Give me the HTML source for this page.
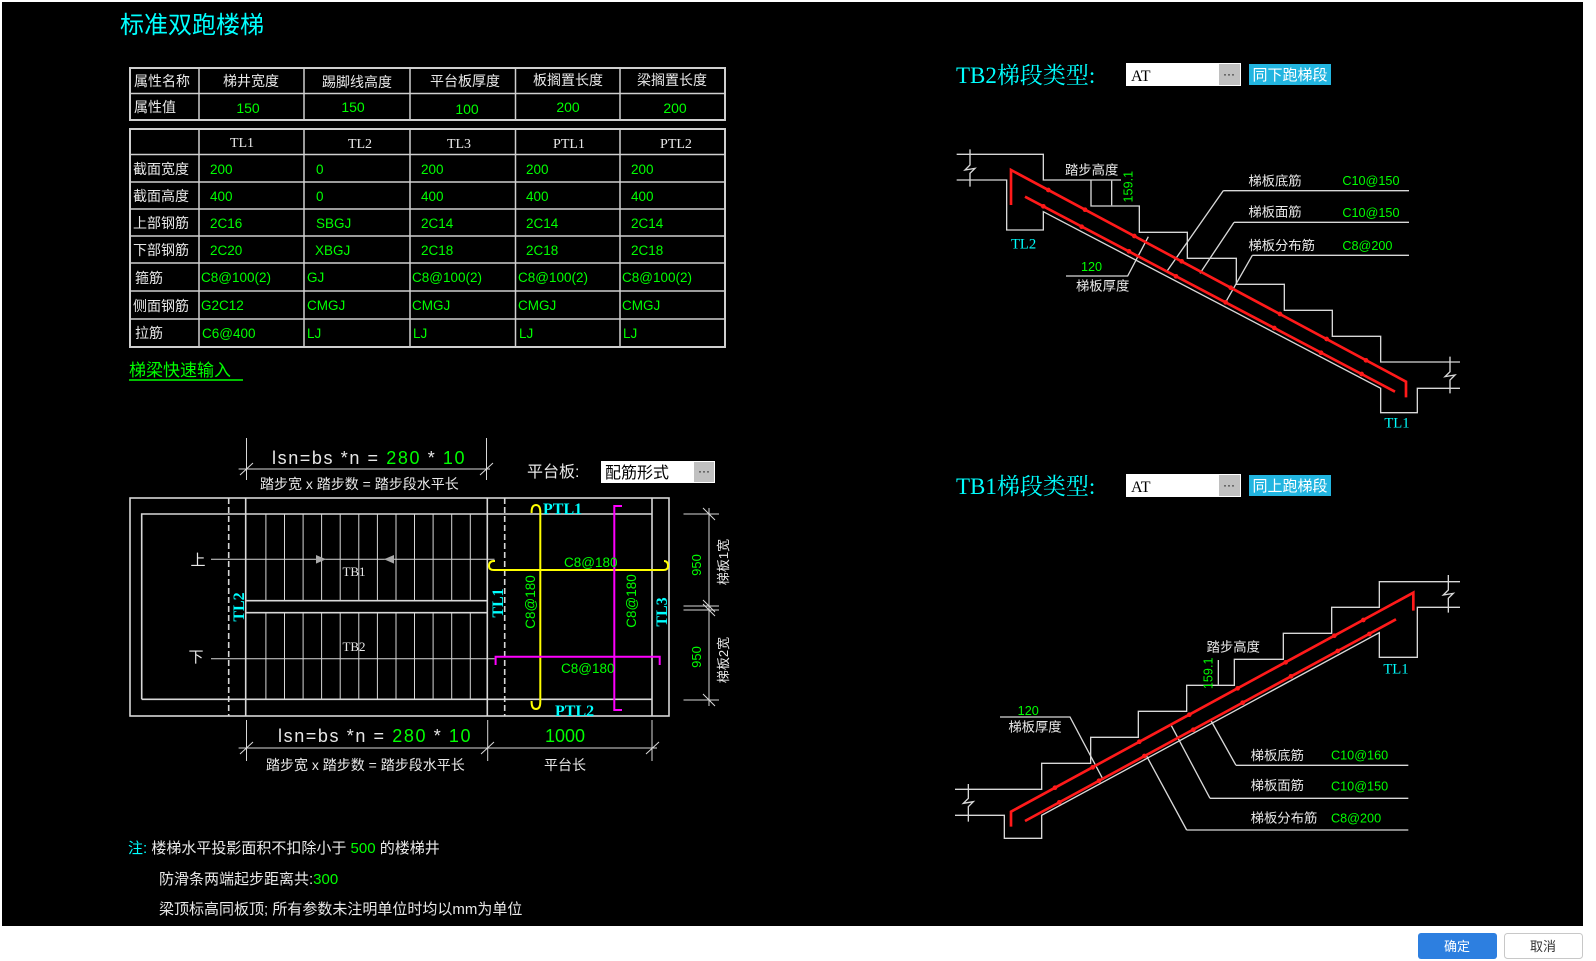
<!DOCTYPE html>
<html><head><meta charset="utf-8"><style>
html,body{margin:0;padding:0;background:#fff;}
svg{display:block;}
text{font-family:"Liberation Sans","Noto Sans CJK SC",sans-serif;}
.w{fill:#e8e8e8;}
.g{fill:#00ff00;}
.c{fill:#00ffff;}
.m{font-family:"Liberation Mono",monospace;}
</style></head><body>
<svg width="1596" height="961" viewBox="0 0 1596 961" xmlns="http://www.w3.org/2000/svg">
<rect x="0" y="0" width="1596" height="961" fill="#fff"/>
<rect x="2" y="2" width="1581" height="924" fill="#000"/>

<text x="120" y="33" font-size="24" class="c">标准双跑楼梯</text>

<g stroke="#cfcfcf" fill="none">
<rect x="130" y="68" width="595" height="52" stroke-width="2"/>
<line x1="130" y1="93.5" x2="725" y2="93.5" stroke-width="1.5"/>
<line x1="199" y1="68" x2="199" y2="120" stroke-width="1.5"/>
<line x1="304" y1="68" x2="304" y2="120" stroke-width="1.5"/>
<line x1="410" y1="68" x2="410" y2="120" stroke-width="1.5"/>
<line x1="515.5" y1="68" x2="515.5" y2="120" stroke-width="1.5"/>
<line x1="620" y1="68" x2="620" y2="120" stroke-width="1.5"/>
<rect x="130" y="129" width="595" height="218" stroke-width="2"/>
<line x1="130" y1="154.5" x2="725" y2="154.5" stroke-width="1.5"/>
<line x1="130" y1="182" x2="725" y2="182" stroke-width="1.5"/>
<line x1="130" y1="209" x2="725" y2="209" stroke-width="1.5"/>
<line x1="130" y1="236" x2="725" y2="236" stroke-width="1.5"/>
<line x1="130" y1="263" x2="725" y2="263" stroke-width="1.5"/>
<line x1="130" y1="291" x2="725" y2="291" stroke-width="1.5"/>
<line x1="130" y1="319" x2="725" y2="319" stroke-width="1.5"/>
<line x1="199" y1="129" x2="199" y2="347" stroke-width="1.5"/>
<line x1="304" y1="129" x2="304" y2="347" stroke-width="1.5"/>
<line x1="410" y1="129" x2="410" y2="347" stroke-width="1.5"/>
<line x1="515.5" y1="129" x2="515.5" y2="347" stroke-width="1.5"/>
<line x1="620" y1="129" x2="620" y2="347" stroke-width="1.5"/>
</g>
<g font-size="14" class="w">
<text x="134" y="86">属性名称</text>
<text x="251" y="86" text-anchor="middle">梯井宽度</text>
<text x="357" y="87" text-anchor="middle">踢脚线高度</text>
<text x="465" y="86" text-anchor="middle">平台板厚度</text>
<text x="568" y="85" text-anchor="middle">板搁置长度</text>
<text x="672" y="85" text-anchor="middle">梁搁置长度</text>
<text x="134" y="112">属性值</text>
</g>
<g font-size="14" class="g m" text-anchor="middle">
<text x="248" y="113">150</text>
<text x="353" y="112">150</text>
<text x="467" y="114">100</text>
<text x="568" y="112">200</text>
<text x="675" y="113">200</text>
</g>
<g font-size="14" class="w" text-anchor="middle">
<text x="242" y="147" style="font-family:'Liberation Serif',serif">TL1</text>
<text x="360" y="148" style="font-family:'Liberation Serif',serif">TL2</text>
<text x="459" y="148" style="font-family:'Liberation Serif',serif">TL3</text>
<text x="569" y="148" style="font-family:'Liberation Serif',serif">PTL1</text>
<text x="676" y="148" style="font-family:'Liberation Serif',serif">PTL2</text>
</g>
<g font-size="14" class="w">
<text x="133" y="174">截面宽度</text>
<text x="133" y="201">截面高度</text>
<text x="133" y="228">上部钢筋</text>
<text x="133" y="255">下部钢筋</text>
<text x="135" y="283">箍筋</text>
<text x="133" y="311">侧面钢筋</text>
<text x="135" y="338">拉筋</text>
</g>
<g font-size="13.5" class="g m">
<text x="210" y="174">200</text><text x="316" y="174">0</text><text x="421" y="174">200</text><text x="526" y="174">200</text><text x="631" y="174">200</text>
<text x="210" y="201">400</text><text x="316" y="201">0</text><text x="421" y="201">400</text><text x="526" y="201">400</text><text x="631" y="201">400</text>
<text x="210" y="228">2C16</text><text x="316" y="228">SBGJ</text><text x="421" y="228">2C14</text><text x="526" y="228">2C14</text><text x="631" y="228">2C14</text>
<text x="210" y="255">2C20</text><text x="315" y="255">XBGJ</text><text x="421" y="255">2C18</text><text x="526" y="255">2C18</text><text x="631" y="255">2C18</text>
<text x="201" y="282">C8@100(2)</text><text x="307" y="282">GJ</text><text x="412" y="282">C8@100(2)</text><text x="518" y="282">C8@100(2)</text><text x="622" y="282">C8@100(2)</text>
<text x="201" y="310">G2C12</text><text x="307" y="310">CMGJ</text><text x="412" y="310">CMGJ</text><text x="518" y="310">CMGJ</text><text x="622" y="310">CMGJ</text>
<text x="202" y="338">C6@400</text><text x="307" y="338">LJ</text><text x="413" y="338">LJ</text><text x="519" y="338">LJ</text><text x="623" y="338">LJ</text>
</g>

<text x="129" y="376" font-size="17" class="g">梯梁快速输入</text>
<line x1="129" y1="380" x2="243" y2="380" stroke="#00ff00" stroke-width="1.5"/>

<g stroke="#d8d8d8" fill="none" stroke-width="1.6">
<rect x="130" y="498" width="539" height="218"/>
<path d="M141.7 699.3 V514 H652 M141.7 699.3 H652 V498 M652 716 V699"/>
<line x1="245.7" y1="498" x2="245.7" y2="716"/>
<line x1="487.3" y1="498" x2="487.3" y2="716"/>
<line x1="228.7" y1="498" x2="228.7" y2="716" stroke-dasharray="6,3"/>
<line x1="504.7" y1="498" x2="504.7" y2="716" stroke-dasharray="6,3"/>
<path d="M245.7 600.7 H487.3 M245.7 612.7 H487.3"/>
</g>
<g stroke="#d8d8d8" stroke-width="1">
<path d="M265.9 514V600.7M265.9 612.7V699.3 M284.5 514V600.7M284.5 612.7V699.3 M303.1 514V600.7M303.1 612.7V699.3 M321.6 514V600.7M321.6 612.7V699.3 M340.2 514V600.7M340.2 612.7V699.3 M358.8 514V600.7M358.8 612.7V699.3 M377.4 514V600.7M377.4 612.7V699.3 M396 514V600.7M396 612.7V699.3 M414.5 514V600.7M414.5 612.7V699.3 M433.1 514V600.7M433.1 612.7V699.3 M451.7 514V600.7M451.7 612.7V699.3 M470.3 514V600.7M470.3 612.7V699.3"/>
<line x1="211" y1="559.3" x2="494.5" y2="559.3"/>
<line x1="211" y1="658.7" x2="494.5" y2="658.7"/>
</g>
<polygon points="316,555 326,559.3 316,563.6" fill="#aaa"/>
<polygon points="394,555 384,559.3 394,563.6" fill="#aaa"/>
<text x="354" y="576" font-size="13" class="w" text-anchor="middle" style="font-family:'Liberation Serif',serif">TB1</text>
<text x="354" y="651" font-size="13" class="w" text-anchor="middle" style="font-family:'Liberation Serif',serif">TB2</text>
<text x="198" y="565" font-size="15" class="w" text-anchor="middle">上</text>
<text x="196" y="662" font-size="15" class="w" text-anchor="middle">下</text>
<g font-size="16" font-weight="bold" class="c">
<text transform="translate(244,607) rotate(-90)" text-anchor="middle" style="font-family:'Liberation Serif',serif">TL2</text>
<text transform="translate(503,603) rotate(-90)" text-anchor="middle" style="font-family:'Liberation Serif',serif">TL1</text>
<text transform="translate(667,612) rotate(-90)" text-anchor="middle" style="font-family:'Liberation Serif',serif">TL3</text>
<text x="543" y="514" style="font-family:'Liberation Serif',serif">PTL1</text>
<text x="555" y="716" style="font-family:'Liberation Serif',serif">PTL2</text>
</g>
<g stroke="#ffff00" stroke-width="2" fill="none">
<path d="M540.3 512 V702 M540.3 512 Q540.3 505 536 505 Q531.6 505 531.6 512 V513 M540.3 702 Q540.3 709 536 709 Q531.6 709 531.6 702 V701"/>
<path d="M494 570 H663.5 M494 570 Q489 570 489 566 Q489 561 494 561 H495 M663.5 570 Q668 570 668 566 Q668 561 664 561"/>
</g>
<g stroke="#ff00ff" stroke-width="2" fill="none">
<path d="M622 506 H614.3 V710 H622"/>
<path d="M495.6 665 V656.7 H659.7 V665"/>
</g>
<g font-size="13.5" class="g m">
<text x="564" y="567">C8@180</text>
<text x="561" y="673">C8@180</text>
<text transform="translate(535,602) rotate(-90)" text-anchor="middle">C8@180</text>
<text transform="translate(636,601) rotate(-90)" text-anchor="middle">C8@180</text>
</g>
<g stroke="#d8d8d8" stroke-width="1">
<line x1="709" y1="508" x2="709" y2="706"/>
<line x1="683.5" y1="514" x2="719" y2="514"/>
<line x1="683.5" y1="606" x2="719" y2="606"/>
<line x1="683.5" y1="610" x2="719" y2="610"/>
<line x1="683.5" y1="700" x2="719" y2="700"/>
<path d="M703 508 L715 520 M703 600 L715 612 M703 604 L715 616 M703 694 L715 706"/>
</g>
<g font-size="13" class="g m">
<text transform="translate(701,565) rotate(-90)" text-anchor="middle">950</text>
<text transform="translate(701,657) rotate(-90)" text-anchor="middle">950</text>
</g>
<g font-size="13" class="w">
<text transform="translate(728,562) rotate(-90)" text-anchor="middle">梯板1宽</text>
<text transform="translate(728,660) rotate(-90)" text-anchor="middle">梯板2宽</text>
</g>
<g stroke="#d8d8d8" stroke-width="1">
<line x1="246.5" y1="438" x2="246.5" y2="480"/>
<line x1="486.5" y1="438" x2="486.5" y2="480"/>
<line x1="238.6" y1="469" x2="490" y2="469"/>
<path d="M240 475 L253 463 M480 475 L493 463"/>
<line x1="246.5" y1="720" x2="246.5" y2="761"/>
<line x1="487.7" y1="720" x2="487.7" y2="761"/>
<line x1="652" y1="720" x2="652" y2="761"/>
<line x1="238.6" y1="748" x2="657" y2="748"/>
<path d="M240 754 L253 742 M481 754 L494 742 M646 754 L659 742"/>
</g>
<text x="272" y="464" font-size="18" letter-spacing="1.6"><tspan class="w">lsn=bs *n = </tspan><tspan class="g">280</tspan><tspan class="w"> * </tspan><tspan class="g">10</tspan></text>
<text x="260" y="489" font-size="14" class="w">踏步宽 x 踏步数 = 踏步段水平长</text>
<text x="278" y="742" font-size="18" letter-spacing="1.6"><tspan class="w">lsn=bs *n = </tspan><tspan class="g">280</tspan><tspan class="w"> * </tspan><tspan class="g">10</tspan></text>
<text x="565" y="742" font-size="18" class="g" text-anchor="middle">1000</text>
<text x="266" y="770" font-size="14" class="w">踏步宽 x 踏步数 = 踏步段水平长</text>
<text x="565" y="770" font-size="14" class="w" text-anchor="middle">平台长</text>
<text x="527" y="477" font-size="16" class="w">平台板:</text>
<rect x="601" y="461" width="114" height="22" fill="#fff"/>
<rect x="694" y="462" width="20" height="20" fill="#c0c0c0"/>
<text x="605" y="478" font-size="16" fill="#000">配筋形式</text>
<text x="704" y="475" font-size="12" fill="#000" text-anchor="middle">···</text>

<text x="128" y="853" font-size="15"><tspan class="c">注:</tspan><tspan class="w"> 楼梯水平投影面积不扣除小于 </tspan><tspan class="g">500</tspan><tspan class="w"> 的楼梯井</tspan></text>
<text x="159" y="884" font-size="15"><tspan class="w">防滑条两端起步距离共:</tspan><tspan class="g">300</tspan></text>
<text x="159" y="914" font-size="15" class="w">梁顶标高同板顶; 所有参数未注明单位时均以mm为单位</text>

<text x="956" y="83" font-size="23" class="c" style="font-family:'Liberation Serif','Noto Serif CJK SC',serif">TB2梯段类型:</text>
<rect x="1126" y="63" width="115" height="23" fill="#fff"/>
<rect x="1219" y="64" width="21" height="21" fill="#c0c0c0"/>
<text x="1131" y="81" font-size="16" fill="#000" style="font-family:'Liberation Serif',serif">AT</text>
<text x="1229" y="78" font-size="12" fill="#000" text-anchor="middle">···</text>
<rect x="1249" y="64" width="82" height="21" fill="#22b5e0"/>
<text x="1290" y="80" font-size="15" fill="#fff" text-anchor="middle">同下跑梯段</text>
<text x="956" y="494" font-size="23" class="c" style="font-family:'Liberation Serif','Noto Serif CJK SC',serif">TB1梯段类型:</text>
<rect x="1126" y="474" width="115" height="23" fill="#fff"/>
<rect x="1219" y="475" width="21" height="21" fill="#c0c0c0"/>
<text x="1131" y="492" font-size="16" fill="#000" style="font-family:'Liberation Serif',serif">AT</text>
<text x="1229" y="489" font-size="12" fill="#000" text-anchor="middle">···</text>
<rect x="1249" y="475" width="82" height="21" fill="#22b5e0"/>
<text x="1290" y="491" font-size="15" fill="#fff" text-anchor="middle">同上跑梯段</text>

<g transform="translate(940,140) scale(0.33333)">
<g stroke="#d8d8d8" stroke-width="4" fill="none">
<path d="M50 43 H310 V120 H543 M453 120 V198 H598 V277 H742 V355 H889 V433 H1033 V511 H1177 V589 H1322 V666 H1560"/>
<path d="M50 120 H200 V270 H310 V215 L1322 745 V818 H1432 V745 H1560"/>
<path d="M90 28 V75 L75 90 L105 85 L90 100 V140 M1530 650 V695 L1515 710 L1545 705 L1530 720 V760"/>
<line x1="515" y1="122" x2="515" y2="196"/>
<path d="M378 408 H563 L625 290 M850 152 H1407 M850 152 L680 395 M882 247 H1407 M882 247 L780 400 M937 346 H1407 M937 346 L855 490"/>
</g>
<g stroke="#ff1a1a" stroke-width="8" fill="none">
<path d="M213 195 V90 L1398 725 V772"/>
<path d="M255 170 L1365 755"/>
</g>
<g fill="#ff1a1a">
<circle cx="325" cy="150" r="7"/><circle cx="435" cy="209" r="7"/><circle cx="583" cy="288" r="7"/><circle cx="725" cy="364" r="7"/><circle cx="872" cy="443" r="7"/><circle cx="1020" cy="522" r="7"/><circle cx="1160" cy="597" r="7"/><circle cx="1278" cy="661" r="7"/>
<circle cx="310" cy="199" r="7"/><circle cx="425" cy="260" r="7"/><circle cx="567" cy="334" r="7"/><circle cx="708" cy="409" r="7"/><circle cx="857" cy="487" r="7"/><circle cx="1003" cy="564" r="7"/><circle cx="1143" cy="638" r="7"/><circle cx="1265" cy="702" r="7"/>
</g>
<g font-size="40" class="w">
<text x="375" y="103">踏步高度</text>
<text x="925" y="137">梯板底筋</text>
<text x="925" y="230">梯板面筋</text>
<text x="925" y="330">梯板分布筋</text>
<text x="408" y="452">梯板厚度</text>
</g>
<g font-size="38" class="g m">
<text x="1207" y="135">C10@150</text>
<text x="1207" y="231">C10@150</text>
<text x="1207" y="330">C8@200</text>
<text x="423" y="393">120</text>
<text transform="translate(578,140) rotate(-90)" text-anchor="middle">159.1</text>
</g>
<text x="213" y="326" font-size="44" class="c" style="font-family:'Liberation Serif',serif">TL2</text>
<text x="1333" y="862" font-size="44" class="c" style="font-family:'Liberation Serif',serif">TL1</text>
</g>

<g transform="translate(940,560) scale(0.33333)">
<g stroke="#d8d8d8" stroke-width="4" fill="none">
<path d="M1560 65 H1318 V142 H1175 V220 H1030 V298 H883 V376 H740 V454 H595 V532 H452 V610 H305 V688 H45"/>
<path d="M45 766 H193 V835 H305 V766 L1318 218 V292 H1432 V142 H1560"/>
<path d="M85 672 V715 L70 730 L100 725 L85 740 V785 M1525 45 V90 L1510 105 L1540 100 L1525 115 V158"/>
<line x1="835" y1="300" x2="835" y2="374"/>
<path d="M180 471 H390 L490 660 M888 616 H1405 M888 616 L812 480 M810 715 H1405 M810 715 L693 495 M740 810 H1405 M740 810 L617 583"/>
</g>
<g stroke="#ff1a1a" stroke-width="8" fill="none">
<path d="M213 800 V755 L1420 98 V152"/>
<path d="M255 783 L1368 178"/>
</g>
<g fill="#ff1a1a">
<circle cx="345" cy="683" r="7"/><circle cx="458" cy="622" r="7"/><circle cx="598" cy="545" r="7"/><circle cx="748" cy="464" r="7"/><circle cx="893" cy="385" r="7"/><circle cx="1037" cy="307" r="7"/><circle cx="1183" cy="227" r="7"/><circle cx="1270" cy="180" r="7"/>
<circle cx="358" cy="727" r="7"/><circle cx="477" cy="662" r="7"/><circle cx="613" cy="588" r="7"/><circle cx="760" cy="509" r="7"/><circle cx="908" cy="428" r="7"/><circle cx="1053" cy="349" r="7"/><circle cx="1193" cy="273" r="7"/><circle cx="1288" cy="222" r="7"/>
</g>
<g font-size="40" class="w">
<text x="800" y="275">踏步高度</text>
<text x="932" y="600">梯板底筋</text>
<text x="932" y="690">梯板面筋</text>
<text x="932" y="788">梯板分布筋</text>
<text x="205" y="515">梯板厚度</text>
</g>
<g font-size="38" class="g m">
<text x="1173" y="598">C10@160</text>
<text x="1173" y="692">C10@150</text>
<text x="1173" y="788">C8@200</text>
<text x="233" y="465">120</text>
<text transform="translate(818,340) rotate(-90)" text-anchor="middle">159.1</text>
</g>
<text x="1330" y="340" font-size="44" class="c" style="font-family:'Liberation Serif',serif">TL1</text>
</g>

<rect x="1418" y="933" width="79" height="26" rx="3" fill="#2d7fe0"/>
<text x="1457" y="951" font-size="13" fill="#fff" text-anchor="middle">确定</text>
<rect x="1504.5" y="933.5" width="78" height="25" rx="3" fill="#fff" stroke="#c8c8c8"/>
<text x="1543" y="951" font-size="13" fill="#333" text-anchor="middle">取消</text>
</svg>
</body></html>
